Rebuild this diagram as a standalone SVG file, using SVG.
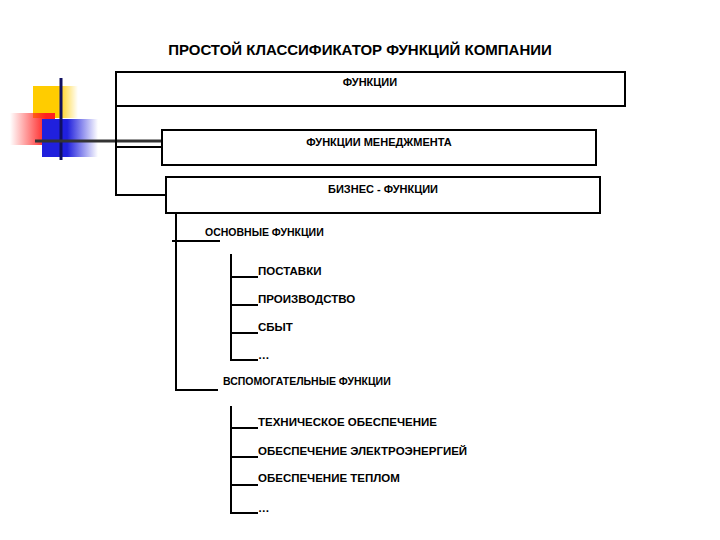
<svg xmlns="http://www.w3.org/2000/svg" width="720" height="540" viewBox="0 0 720 540">
<defs>
<linearGradient id="gy" x1="0" x2="1"><stop offset="0.55" stop-color="#ffcc00"/><stop offset="1" stop-color="#ffcc00" stop-opacity="0"/></linearGradient>
<linearGradient id="gr" x1="1" x2="0"><stop offset="0.2" stop-color="#ff2020"/><stop offset="1" stop-color="#ff2020" stop-opacity="0"/></linearGradient>
<linearGradient id="gb" x1="0" x2="1"><stop offset="0.45" stop-color="#2020dd"/><stop offset="1" stop-color="#2020dd" stop-opacity="0"/></linearGradient>
</defs>
<style>
text{font-family:"Liberation Sans",Arial,sans-serif;fill:#000;font-weight:bold}
.t{font-size:15px}
.n{font-size:11px}
.s{font-size:10.5px}
.i{font-size:11.5px}
.box{fill:#fff;stroke:#000;stroke-width:2}
.c line{stroke:#000;stroke-width:2}
</style>
<rect width="720" height="540" fill="#fff"/>
<g id="decor">
<rect x="33" y="86" width="45" height="32" fill="url(#gy)"/>
<rect x="10" y="113" width="45" height="32" fill="url(#gr)"/>
<rect x="42" y="119" width="56" height="38" fill="url(#gb)"/>
<line x1="61" y1="78" x2="61" y2="160" stroke="#101060" stroke-width="3"/>
<line x1="35" y1="141" x2="162" y2="141" stroke="#333" stroke-width="3"/>
</g>
<text class="t" x="360" y="55" text-anchor="middle">ПРОСТОЙ КЛАССИФИКАТОР ФУНКЦИЙ КОМПАНИИ</text>
<g class="c" id="connectors">
<line x1="116" y1="72" x2="116" y2="196"/>
<line x1="116" y1="147" x2="162" y2="147"/>
<line x1="116" y1="195" x2="166" y2="195"/>
<line x1="176" y1="213" x2="176" y2="391"/>
<line x1="172" y1="241" x2="220" y2="241"/>
<line x1="176" y1="390" x2="218" y2="390"/>
<line x1="231" y1="254" x2="231" y2="361"/>
<line x1="231" y1="277" x2="258" y2="277"/>
<line x1="231" y1="305" x2="258" y2="305"/>
<line x1="231" y1="333" x2="258" y2="333"/>
<line x1="231" y1="360" x2="258" y2="360"/>
<line x1="231" y1="406" x2="231" y2="514"/>
<line x1="231" y1="428" x2="258" y2="428"/>
<line x1="231" y1="457" x2="258" y2="457"/>
<line x1="231" y1="485" x2="258" y2="485"/>
<line x1="231" y1="513" x2="258" y2="513"/>
</g>
<g id="n1"><rect class="box" x="116" y="72" width="509" height="34"/><text class="n" x="370" y="86" text-anchor="middle">ФУНКЦИИ</text></g>
<g id="n2"><rect class="box" x="162" y="130" width="434" height="35"/><text class="n" x="379" y="146" text-anchor="middle">ФУНКЦИИ МЕНЕДЖМЕНТА</text></g>
<g id="n3"><rect class="box" x="166" y="177" width="434" height="36"/><text class="n" x="383" y="193" text-anchor="middle">БИЗНЕС - ФУНКЦИИ</text></g>
<g id="n4"><text class="s" x="205" y="236">ОСНОВНЫЕ ФУНКЦИИ</text></g>
<g id="n5"><text class="i" x="258" y="275">ПОСТАВКИ</text></g>
<g id="n6"><text class="i" x="258" y="303">ПРОИЗВОДСТВО</text></g>
<g id="n7"><text class="i" x="258" y="331">СБЫТ</text></g>
<g id="n8"><text class="i" x="258" y="359">…</text></g>
<g id="n9"><text class="s" x="223" y="385">ВСПОМОГАТЕЛЬНЫЕ ФУНКЦИИ</text></g>
<g id="n10"><text class="i" x="258" y="426">ТЕХНИЧЕСКОЕ ОБЕСПЕЧЕНИЕ</text></g>
<g id="n11"><text class="i" x="258" y="455">ОБЕСПЕЧЕНИЕ ЭЛЕКТРОЭНЕРГИЕЙ</text></g>
<g id="n12"><text class="i" x="258" y="482">ОБЕСПЕЧЕНИЕ ТЕПЛОМ</text></g>
<g id="n13"><text class="i" x="258" y="512">…</text></g>
</svg>
